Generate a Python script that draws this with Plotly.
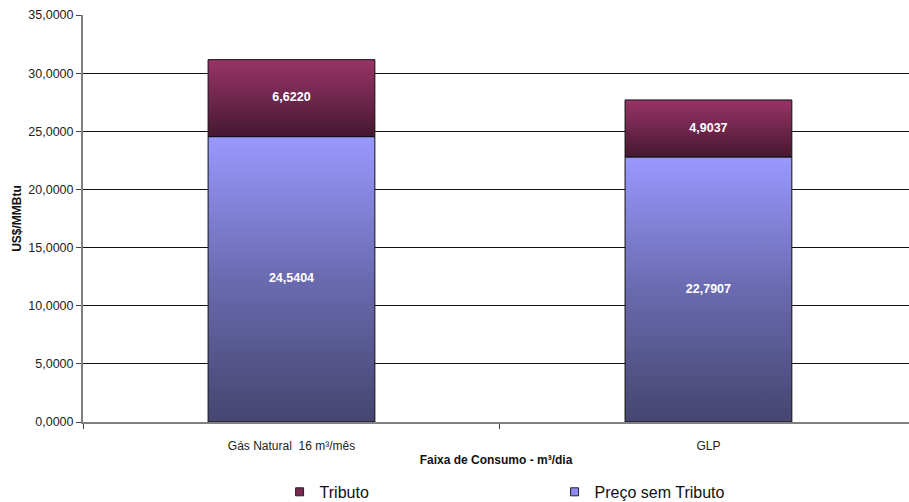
import plotly.graph_objects as go

# Data
categories = ["Gás Natural\u00a0 16 m³/mês", "GLP"]
preco_sem_tributo = [24.5404, 22.7907]
tributo = [6.6220, 4.9037]
y_ticks = [0, 5, 10, 15, 20, 25, 30, 35]

FONT = "Liberation Sans, Arial, sans-serif"
BAR_WIDTH = 0.40

blue_scale = [[0.0, "#45456f"], [0.5, "#6a6ab0"], [1.0, "#9999ff"]]
red_scale = [[0.0, "#451830"], [0.55, "#74284f"], [1.0, "#993366"]]


def fmt(v):
    return f"{v:.4f}".replace(".", ",")


fig = go.Figure()


def add_segment(i, base, value, scale):
    x0, x1 = i - BAR_WIDTH / 2, i + BAR_WIDTH / 2
    top = base + value
    fig.add_trace(go.Scatter(
        x=[x0, x1, x1, x0, x0],
        y=[base, base, top, top, base],
        mode="lines",
        fill="toself",
        fillgradient=dict(type="vertical", colorscale=scale),
        line=dict(color="#111111", width=1),
        hoverinfo="skip",
        showlegend=False,
    ))


for i in range(len(categories)):
    add_segment(i, 0, preco_sem_tributo[i], blue_scale)
    add_segment(i, preco_sem_tributo[i], tributo[i], red_scale)

# value labels at segment centres
label_x, label_y, label_t = [], [], []
for i in range(len(categories)):
    label_x += [i, i]
    label_y += [preco_sem_tributo[i] / 2, preco_sem_tributo[i] + tributo[i] / 2]
    label_t += [fmt(preco_sem_tributo[i]), fmt(tributo[i])]
fig.add_trace(go.Scatter(
    x=label_x, y=label_y, text=label_t, mode="text",
    textfont=dict(family=FONT, size=12.5, color="white", weight="bold"),
    hoverinfo="skip", showlegend=False,
))

# legend entries
fig.add_trace(go.Scatter(
    x=[None], y=[None], mode="markers", name="Tributo",
    marker=dict(symbol="square", size=8, color="#7a2a52",
                line=dict(color="#222222", width=1)),
))
fig.add_trace(go.Scatter(
    x=[None], y=[None], mode="markers", name="Preço sem Tributo",
    marker=dict(symbol="square", size=8, color="#8a8af0",
                line=dict(color="#222222", width=1)),
))

fig.update_layout(
    width=909, height=502,
    margin=dict(l=83, r=0, t=15, b=80, autoexpand=False),
    paper_bgcolor="white", plot_bgcolor="white",
    separators=",.",
    font=dict(family=FONT, size=12, color="#222222"),
    legend=dict(
        orientation="h", x=0.238, xanchor="left", y=-0.13, yanchor="top",
        font=dict(family=FONT, size=16, color="#111111"),
        entrywidth=230,
        bgcolor="rgba(0,0,0,0)",
    ),
)

fig.update_xaxes(
    range=[-0.5, 1.481], automargin=False,
    tickmode="array", tickvals=list(range(len(categories))), ticktext=categories,
    ticks="outside", ticklen=12, tickcolor="rgba(0,0,0,0)",
    showgrid=False, zeroline=False,
    showline=True, linecolor="#808080", linewidth=2,
    tickfont=dict(family=FONT, size=12, color="#222222"),
    minor=dict(tickmode="array", tickvals=[-0.5, 0.5], ticks="outside",
               ticklen=5, tickcolor="#444444", showgrid=False),
    title=dict(text="Faixa de Consumo - m³/dia", standoff=3,
               font=dict(family=FONT, size=12, color="#111111", weight="bold")),
)

fig.update_yaxes(
    range=[0, 35], automargin=False,
    tickmode="array", tickvals=y_ticks, tickformat=".4f",
    ticks="outside", ticklen=5, tickcolor="#444444",
    showgrid=True, gridcolor="#111111", gridwidth=1,
    zeroline=False, showline=True, linecolor="#808080", linewidth=2,
    tickfont=dict(family=FONT, size=12.5, color="#222222"),
    title=dict(text="US$/MMBtu", standoff=4,
               font=dict(family=FONT, size=12, color="#111111", weight="bold")),
)

fig.write_html("out.html")
